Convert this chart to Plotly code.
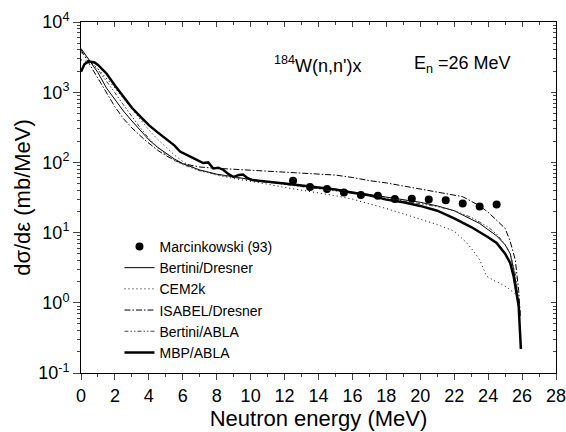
import plotly.graph_objects as go

# Experimental data: Marcinkowski (93)
exp_e = [12.5, 13.5, 14.5, 15.5, 16.5, 17.5, 18.5, 19.5, 20.5, 21.5, 22.5, 23.5, 24.5]
exp_v = [55, 44.5, 41.7, 37.3, 34.2, 33.4, 30.0, 30.3, 29.6, 29.0, 26.0, 23.5, 25.1]

# Bertini/Dresner (thin solid)
bd_e = [0, 0.5, 1, 1.5, 2, 2.5, 3, 3.5, 4, 4.5, 5, 5.5, 6, 7, 8, 9, 10, 11, 12, 13, 14, 15,
        16, 17, 18, 19, 20, 21, 22, 23, 23.5, 24, 24.5, 25, 25.3, 25.5, 25.7, 25.85]
bd_v = [4200, 2800, 1900, 1150, 780, 540, 390, 285, 210, 165, 135, 112, 96, 78, 68, 62, 57,
        53, 50, 46.5, 43.5, 41, 38, 35, 32, 29.5, 27, 24, 20.5, 15.5, 13.5, 11, 9, 6.7, 5,
        3, 1.5, 0.6]

# CEM2k (dotted)
cem_e = [0, 0.5, 1, 1.5, 2, 2.5, 3, 3.5, 4, 4.5, 5, 5.5, 6, 6.5, 7, 8, 9, 10, 11, 12, 13, 14,
         15, 16, 17, 18, 19, 20, 21, 22, 22.75, 23.2, 23.5, 23.9, 24.3, 24.7, 25.2, 25.5, 25.8]
cem_v = [2900, 2650, 2150, 1580, 1150, 820, 580, 410, 290, 215, 165, 128, 103, 87, 77, 66,
         59, 54, 49, 44, 40.5, 37, 33.5, 30, 26, 22, 18.5, 15.5, 13, 10.5, 7.1, 5.2, 4.1,
         2.4, 2.1, 1.9, 1.6, 1.4, 1.2]

# ISABEL/Dresner (dash-dot)
isa_e = [0, 0.5, 1, 1.5, 2, 2.5, 3, 3.75, 4.5, 5, 5.5, 6, 6.5, 7, 7.8, 9, 10, 11, 12, 13, 14,
         15, 16, 17, 18, 19, 20, 21, 22, 22.5, 23, 23.5, 24, 24.5, 25, 25.3, 25.6, 25.8, 25.9]
isa_v = [4000, 2500, 1550, 980, 620, 420, 310, 210, 150, 125, 108, 96, 90, 86, 83, 80, 78,
         76, 73, 71, 68.5, 66, 61, 55, 51, 46, 42, 37, 34, 32.5, 28, 24, 19.5, 15, 11.5,
         7.5, 4.1, 1.5, 0.64]

# Bertini/ABLA (dash-dot-dot)
ba_e = [0, 0.5, 1, 1.5, 2, 2.5, 3, 3.5, 4, 4.5, 5, 5.5, 6, 7, 8, 9, 10, 11, 12, 13, 14, 15,
        16, 17, 18, 19, 20, 21, 22, 23, 24, 24.5, 25, 25.3, 25.6, 25.8, 25.9]
ba_v = [3700, 2900, 2100, 1450, 980, 660, 450, 310, 220, 165, 130, 107, 93, 76, 67, 61, 56,
        52, 48.5, 45.5, 42.5, 40, 37, 34, 31, 28.5, 26, 23.5, 20.5, 16.5, 12, 9.5, 6.8, 5,
        2.6, 1.2, 0.7]

# MBP/ABLA (thick solid)
mbp_e = [0, 0.2, 0.45, 0.8, 1, 1.5, 2, 2.5, 3, 3.5, 4, 4.5, 5, 5.5, 5.84, 6.2, 6.62, 7.2,
         7.5, 7.8, 8.1, 8.4, 8.7, 9.0, 9.3, 9.55, 9.8, 10.1, 11, 12, 13, 14, 15, 16, 17, 18,
         19, 20, 21, 22, 23, 24, 24.5, 25, 25.3, 25.5, 25.7, 25.8, 25.93]
mbp_v = [1950, 2500, 2750, 2650, 2450, 1850, 1250, 860, 600, 450, 340, 270, 220, 175, 143,
         128, 115, 98, 100, 82, 84, 78, 68, 62, 66, 67, 60, 56, 53.5, 50, 47, 44, 41, 37, 34,
         29.5, 27, 24, 20.5, 16, 12, 8.6, 7.1, 5.0, 3.7, 2.4, 1.35, 0.9, 0.22]

x_ticks = list(range(0, 29, 2))
y_tickvals = [0.1, 1, 10, 100, 1000, 10000]
y_ticktext = ["10<sup>-1</sup>", "10<sup>0</sup>", "10<sup>1</sup>", "10<sup>2</sup>",
              "10<sup>3</sup>", "10<sup>4</sup>"]

FONT = "Liberation Sans, Arial, Helvetica, sans-serif"

fig = go.Figure()
fig.add_trace(go.Scatter(x=exp_e, y=exp_v, mode="markers", name="Marcinkowski (93)",
                         marker=dict(color="black", size=8, symbol="circle")))
fig.add_trace(go.Scatter(x=bd_e, y=bd_v, mode="lines", name="Bertini/Dresner",
                         line=dict(color="black", width=1)))
fig.add_trace(go.Scatter(x=cem_e, y=cem_v, mode="lines", name="CEM2k",
                         line=dict(color="black", width=1, dash="1px,3px")))
fig.add_trace(go.Scatter(x=isa_e, y=isa_v, mode="lines", name="ISABEL/Dresner",
                         line=dict(color="black", width=1, dash="6px,2px,1.5px,2px")))
fig.add_trace(go.Scatter(x=ba_e, y=ba_v, mode="lines", name="Bertini/ABLA",
                         line=dict(color="#444444", width=1,
                                   dash="4px,2px,1.5px,2px,1.5px,2px")))
fig.add_trace(go.Scatter(x=mbp_e, y=mbp_v, mode="lines", name="MBP/ABLA",
                         line=dict(color="black", width=2.5)))
# invisible trace that activates the mirrored top/right frame axes
fig.add_trace(go.Scatter(x=exp_e, y=exp_v, xaxis="x2", yaxis="y2", mode="markers",
                         marker=dict(opacity=0), showlegend=False, hoverinfo="skip"))

fig.update_layout(
    width=566, height=432,
    margin=dict(l=81, r=10, t=22, b=59),
    paper_bgcolor="white", plot_bgcolor="white",
    font=dict(family=FONT, size=18, color="black"),
    showlegend=True,
    legend=dict(x=0.081, y=0.405, xanchor="left", yanchor="top",
                bgcolor="rgba(0,0,0,0)", font=dict(size=14, family=FONT),
                tracegroupgap=0, itemwidth=30),
    xaxis=dict(range=[0, 28], tickvals=x_ticks, ticks="outside", ticklen=6,
               tickwidth=1, linecolor="black", linewidth=1, showline=True,
               showgrid=False, zeroline=False, automargin=False,
               ticklabeloverflow="allow",
               minor=dict(ticks="outside", ticklen=3, dtick=1, tick0=0, showgrid=False),
               title=dict(text="Neutron energy (MeV)", standoff=0),
               tickfont=dict(size=18)),
    yaxis=dict(type="log", range=[-1, 4], tickvals=y_tickvals, ticktext=y_ticktext,
               ticks="outside", ticklen=7, tickwidth=1, linecolor="black", linewidth=1,
               showline=True, showgrid=False, zeroline=False, automargin=False,
               ticklabeloverflow="allow",
               minor=dict(ticks="outside", ticklen=3, dtick="D1", showgrid=False),
               title=dict(text="dσ/dε (mb/MeV)", standoff=1),
               tickfont=dict(size=18)),
    xaxis2=dict(range=[0, 28], overlaying="x", side="top", anchor="y2",
                tickvals=x_ticks, ticks="inside", ticklen=5, showticklabels=False,
                showline=True, linecolor="black", linewidth=1, showgrid=False,
                zeroline=False, automargin=False,
                minor=dict(ticks="inside", ticklen=3, dtick=1, tick0=0, showgrid=False)),
    yaxis2=dict(type="log", range=[-1, 4], overlaying="y", side="right", anchor="x2",
                tickvals=y_tickvals, ticks="inside", ticklen=5, showticklabels=False,
                showline=True, linecolor="black", linewidth=1, showgrid=False,
                zeroline=False, automargin=False,
                minor=dict(ticks="inside", ticklen=3, dtick="D1", showgrid=False)),
    annotations=[
        dict(text="<sup>184</sup>W(n,n')x", x=0.402, y=0.88, xref="paper", yref="paper",
             xanchor="left", yanchor="middle", showarrow=False,
             font=dict(size=18, family=FONT)),
        dict(text="E<sub>n</sub> =26 MeV", x=0.697, y=0.88, xref="paper", yref="paper",
             xanchor="left", yanchor="middle", showarrow=False,
             font=dict(size=18, family=FONT)),
    ],
)

# Remove the default page margin so the 566x432 figure fills the window exactly.
fig.write_html("out.html", config={"displayModeBar": False},
               post_script="document.body.style.margin='0';"
                           "document.body.style.overflow='hidden';")
